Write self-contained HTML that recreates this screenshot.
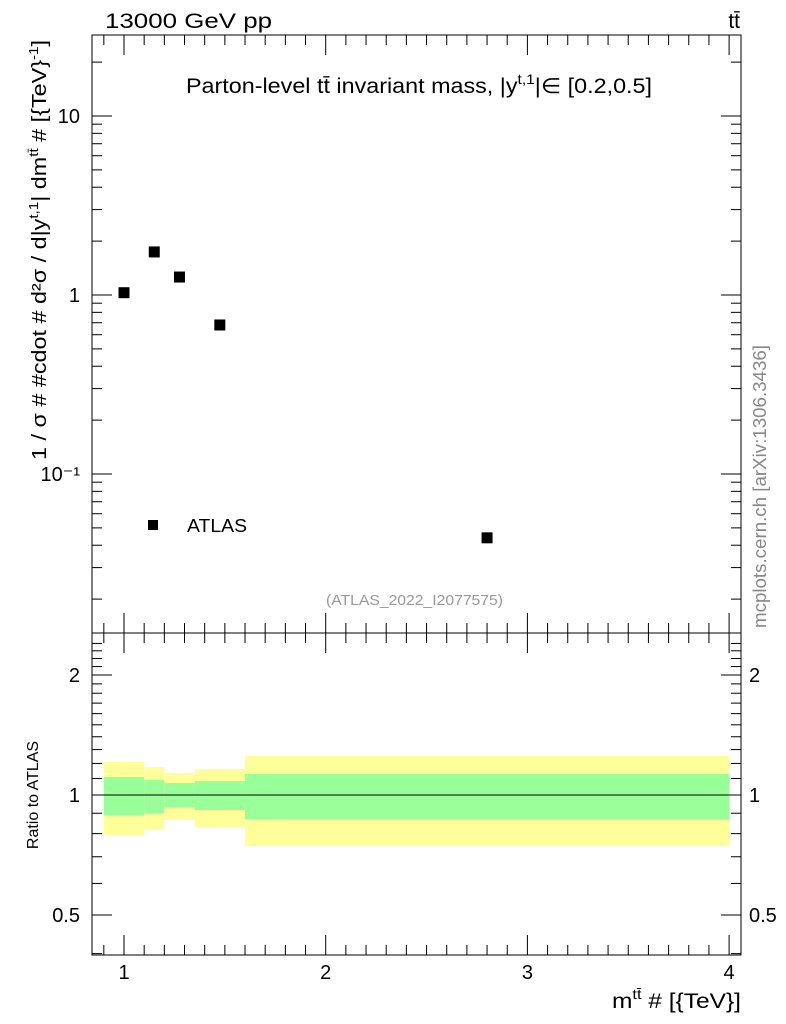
<!DOCTYPE html>
<html><head><meta charset="utf-8"><style>
html,body{margin:0;padding:0;background:#fff;}
svg{display:block;font-family:"Liberation Sans",sans-serif;}
</style></head><body>
<svg id="c" width="786" height="1024" viewBox="0 0 786 1024">
<g id="bands"></g>
<g id="axes"></g>
<g id="pts"></g>
<text x="105" y="28" font-size="21" textLength="167" lengthAdjust="spacingAndGlyphs">13000 GeV pp</text>
<text x="740" y="28" font-size="21" text-anchor="end">tt̄</text>
<text x="186" y="93" font-size="21" textLength="466" lengthAdjust="spacingAndGlyphs">Parton-level tt̄ invariant mass, |y<tspan font-size="14" dy="-9">t,1</tspan><tspan dy="9">|∈ [0.2,0.5]</tspan></text>
<text transform="translate(46,460) rotate(-90)" font-size="20" textLength="420" lengthAdjust="spacingAndGlyphs">1 / σ # #cdot # d²σ / d|y<tspan font-size="13" dy="-8">t,1</tspan><tspan dy="8">| dm</tspan><tspan font-size="13" dy="-8">tt̄</tspan><tspan dy="8"> # [{TeV}</tspan><tspan font-size="13" dy="-8">-1</tspan><tspan dy="8">]</tspan></text>
<text transform="translate(38,795) rotate(-90)" font-size="16" text-anchor="middle">Ratio to ATLAS</text>
<text transform="translate(766,628) rotate(-90)" font-size="18" fill="#888" textLength="283" lengthAdjust="spacingAndGlyphs">mcplots.cern.ch [arXiv:1306.3436]</text>
<text x="326" y="605" font-size="15" fill="#999" textLength="177" lengthAdjust="spacingAndGlyphs">(ATLAS_2022_I2077575)</text>
<rect x="148" y="520" width="10" height="10" fill="#000"/>
<text x="187" y="532" font-size="18" textLength="60" lengthAdjust="spacingAndGlyphs">ATLAS</text>
<text x="612" y="1008" font-size="21" textLength="129" lengthAdjust="spacingAndGlyphs">m<tspan font-size="14" dy="-9">tt̄</tspan><tspan dy="9"> # [{TeV}]</tspan></text>
</svg>
<script>
const binEdges=[0.9,1.1,1.2,1.35,1.6,4.0];
const xCenters=[1.0,1.15,1.275,1.475,2.8];
const yValues=[1.03,1.74,1.26,0.68,0.044];
const yellowHi=[1.21,1.175,1.135,1.162,1.253];
const yellowLo=[0.794,0.822,0.866,0.831,0.745];
const greenHi=[1.11,1.09,1.072,1.084,1.129];
const greenLo=[0.891,0.901,0.933,0.917,0.87];
const xTicks=[1,2,3,4];
const mainTicks=[10,1,0.1];
const mainTickLabels=["10","1","10⁻¹"];
const ratioTicks=[2,1,0.5];
const ratioTickLabels=["2","1","0.5"];

const L=92,R=741,T=35,MB=633,RB=955;
const ns="http://www.w3.org/2000/svg";
function X(v){return 124+(v-1)*201.7;}
function Y(v){return 295-Math.log10(v)*179;}
function YR(v){return 795-Math.log2(v)*120;}
function mk(p,tag,a){const e=document.createElementNS(ns,tag);for(const k in a)e.setAttribute(k,a[k]);document.getElementById(p).appendChild(e);return e;}

for(let i=0;i<xCenters.length;i++){
 const x0=X(binEdges[i]),x1=X(binEdges[i+1]);
 const y=mk('bands','rect',{x:x0,y:YR(yellowHi[i]),width:x1-x0,height:YR(yellowLo[i])-YR(yellowHi[i]),fill:'#ffff99'});
 
 
 const g=mk('bands','rect',{x:x0,y:YR(greenHi[i]),width:x1-x0,height:YR(greenLo[i])-YR(greenHi[i]),fill:'#99ff99'});
 
 
}
mk('axes','line',{x1:L,x2:R,y1:YR(1),y2:YR(1),stroke:'#000','stroke-width':1});
mk('axes','rect',{x:L,y:T,width:R-L,height:MB-T,fill:'none',stroke:'#000','stroke-width':1});
mk('axes','rect',{x:L,y:MB,width:R-L,height:RB-MB,fill:'none',stroke:'#000','stroke-width':1});
for(let v=0.9;v<=4.05;v+=0.1){
 const vv=Math.round(v*10)/10, x=X(vv), maj=Math.abs(vv-Math.round(vv))<1e-6, len=maj?20:10;
 for(const [yb,dir] of [[T,1],[MB,-1],[MB,1],[RB,-1]]) mk('axes','line',{x1:x,x2:x,y1:yb,y2:yb+dir*len,stroke:'#000'});
}
xTicks.forEach(v=>{const t=mk('axes','text',{x:X(v),y:979,'font-size':20,'text-anchor':'middle'});t.textContent=v;
 
 });
for(let d=-2;d<=1;d++)for(let m=1;m<=9;m++){const v=m*Math.pow(10,d),y=Y(v);if(y<T||y>MB)continue;const len=m==1?20:10;
 mk('axes','line',{x1:L,x2:L+len,y1:y,y2:y,stroke:'#000'});mk('axes','line',{x1:R,x2:R-len,y1:y,y2:y,stroke:'#000'});}
mainTicks.forEach((v,i)=>{const t=mk('axes','text',{x:80,y:Y(v)+7,'font-size':20,'text-anchor':'end'});t.textContent=mainTickLabels[i];
 
 });
for(let v=0.4;v<=2.5;v+=0.1){const vv=Math.round(v*10)/10,y=YR(vv);if(y<MB||y>RB)continue;const maj=ratioTicks.includes(vv),len=maj?20:10;
 mk('axes','line',{x1:L,x2:L+len,y1:y,y2:y,stroke:'#000'});mk('axes','line',{x1:R,x2:R-len,y1:y,y2:y,stroke:'#000'});}
ratioTicks.forEach((v,i)=>{for(const [x,a] of [[80,'end'],[749,'start']]){const t=mk('axes','text',{x:x,y:YR(v)+7,'font-size':20,'text-anchor':a});t.textContent=ratioTickLabels[i];
 
 }});
xCenters.forEach((x,i)=>{const r=mk('pts','rect',{x:X(x)-5.5,y:Y(yValues[i])-5.5,width:11,height:11,fill:'#000'});
 
 });
</script>
</body></html>
